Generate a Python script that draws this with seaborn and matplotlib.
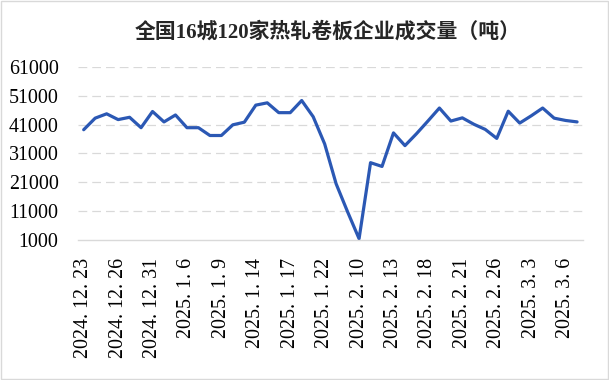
import numpy as np
import pandas as pd
import matplotlib
matplotlib.use("Agg")
import matplotlib.pyplot as plt
import seaborn as sns
from matplotlib.patches import Rectangle

dates = [
    "2024. 12. 23", "2024. 12. 24", "2024. 12. 25", "2024. 12. 26", "2024. 12. 27",
    "2024. 12. 30", "2024. 12. 31", "2025. 1. 2", "2025. 1. 3", "2025. 1. 6",
    "2025. 1. 7", "2025. 1. 8", "2025. 1. 9", "2025. 1. 10", "2025. 1. 13",
    "2025. 1. 14", "2025. 1. 15", "2025. 1. 16", "2025. 1. 17", "2025. 1. 20",
    "2025. 1. 21", "2025. 1. 22", "2025. 1. 23", "2025. 1. 24", "2025. 2. 10",
    "2025. 2. 11", "2025. 2. 12", "2025. 2. 13", "2025. 2. 14", "2025. 2. 17",
    "2025. 2. 18", "2025. 2. 19", "2025. 2. 20", "2025. 2. 21", "2025. 2. 24",
    "2025. 2. 25", "2025. 2. 26", "2025. 2. 27", "2025. 2. 28", "2025. 3. 3",
    "2025. 3. 4", "2025. 3. 5", "2025. 3. 6", "2025. 3. 7",
]
volume = [
    39200, 43200, 44700, 42700, 43500, 39900, 45500, 41900, 44300, 39900,
    39900, 37200, 37200, 40900, 41800, 47700, 48500, 45100, 45100, 49300,
    43700, 34300, 20500, 10800, 1500, 27800, 26500, 38100, 33700, 37800,
    42200, 46700, 42200, 43300, 41100, 39300, 36200, 45600, 41500, 44000,
    46700, 43200, 42400, 41900,
]
y_ticks = [1000, 11000, 21000, 31000, 41000, 51000, 61000]
title = "全国16城120家热轧卷板企业成交量（吨）"

df = pd.DataFrame({"idx": np.arange(len(dates)), "date": dates, "volume": volume})

sns.set_theme(style="white")
plt.rcParams["font.family"] = ["Liberation Serif", "Noto Sans CJK SC", "DejaVu Sans"]

fig = plt.figure(figsize=(6.09, 3.80), dpi=100)
ax = fig.add_axes([0.128, 0.368, 0.829, 0.4565])

sns.lineplot(data=df, x="idx", y="volume", color="#2B58B4", linewidth=2.3, ax=ax)

ax.set_xlim(-0.5, len(dates) - 0.5)
ax.set_ylim(y_ticks[0], y_ticks[-1])
ax.set_yticks(y_ticks)
ax.set_yticklabels([str(v) for v in y_ticks])
ax.set_xticks(df["idx"][::3])
ax.set_xticklabels(df["date"][::3], rotation=90)
ax.tick_params(axis="both", length=0, labelsize=14.4, colors="black")
ax.tick_params(axis="y", pad=14)
ax.tick_params(axis="x", pad=13)
ax.set_xlabel("")
ax.set_ylabel("")

for v in y_ticks[1:]:
    ax.axhline(v, color="#D9D9D9", linewidth=0.9, linestyle=(0, (7, 4)), zorder=0)

for s in ["top", "right", "left"]:
    ax.spines[s].set_visible(False)
ax.spines["bottom"].set_color("#D9D9D9")
ax.spines["bottom"].set_linewidth(1.0)

fig.text(0.538, 0.916, title, ha="center", va="center", fontsize=15,
         fontweight="bold", family=["Liberation Serif", "Noto Sans CJK SC"])

fig.patches.append(Rectangle((0.001, 0.002), 0.997, 0.995, transform=fig.transFigure,
                             fill=False, edgecolor="#D9D9D9", linewidth=1.0))

fig.savefig("out.png", dpi=100)
plt.close(fig)
